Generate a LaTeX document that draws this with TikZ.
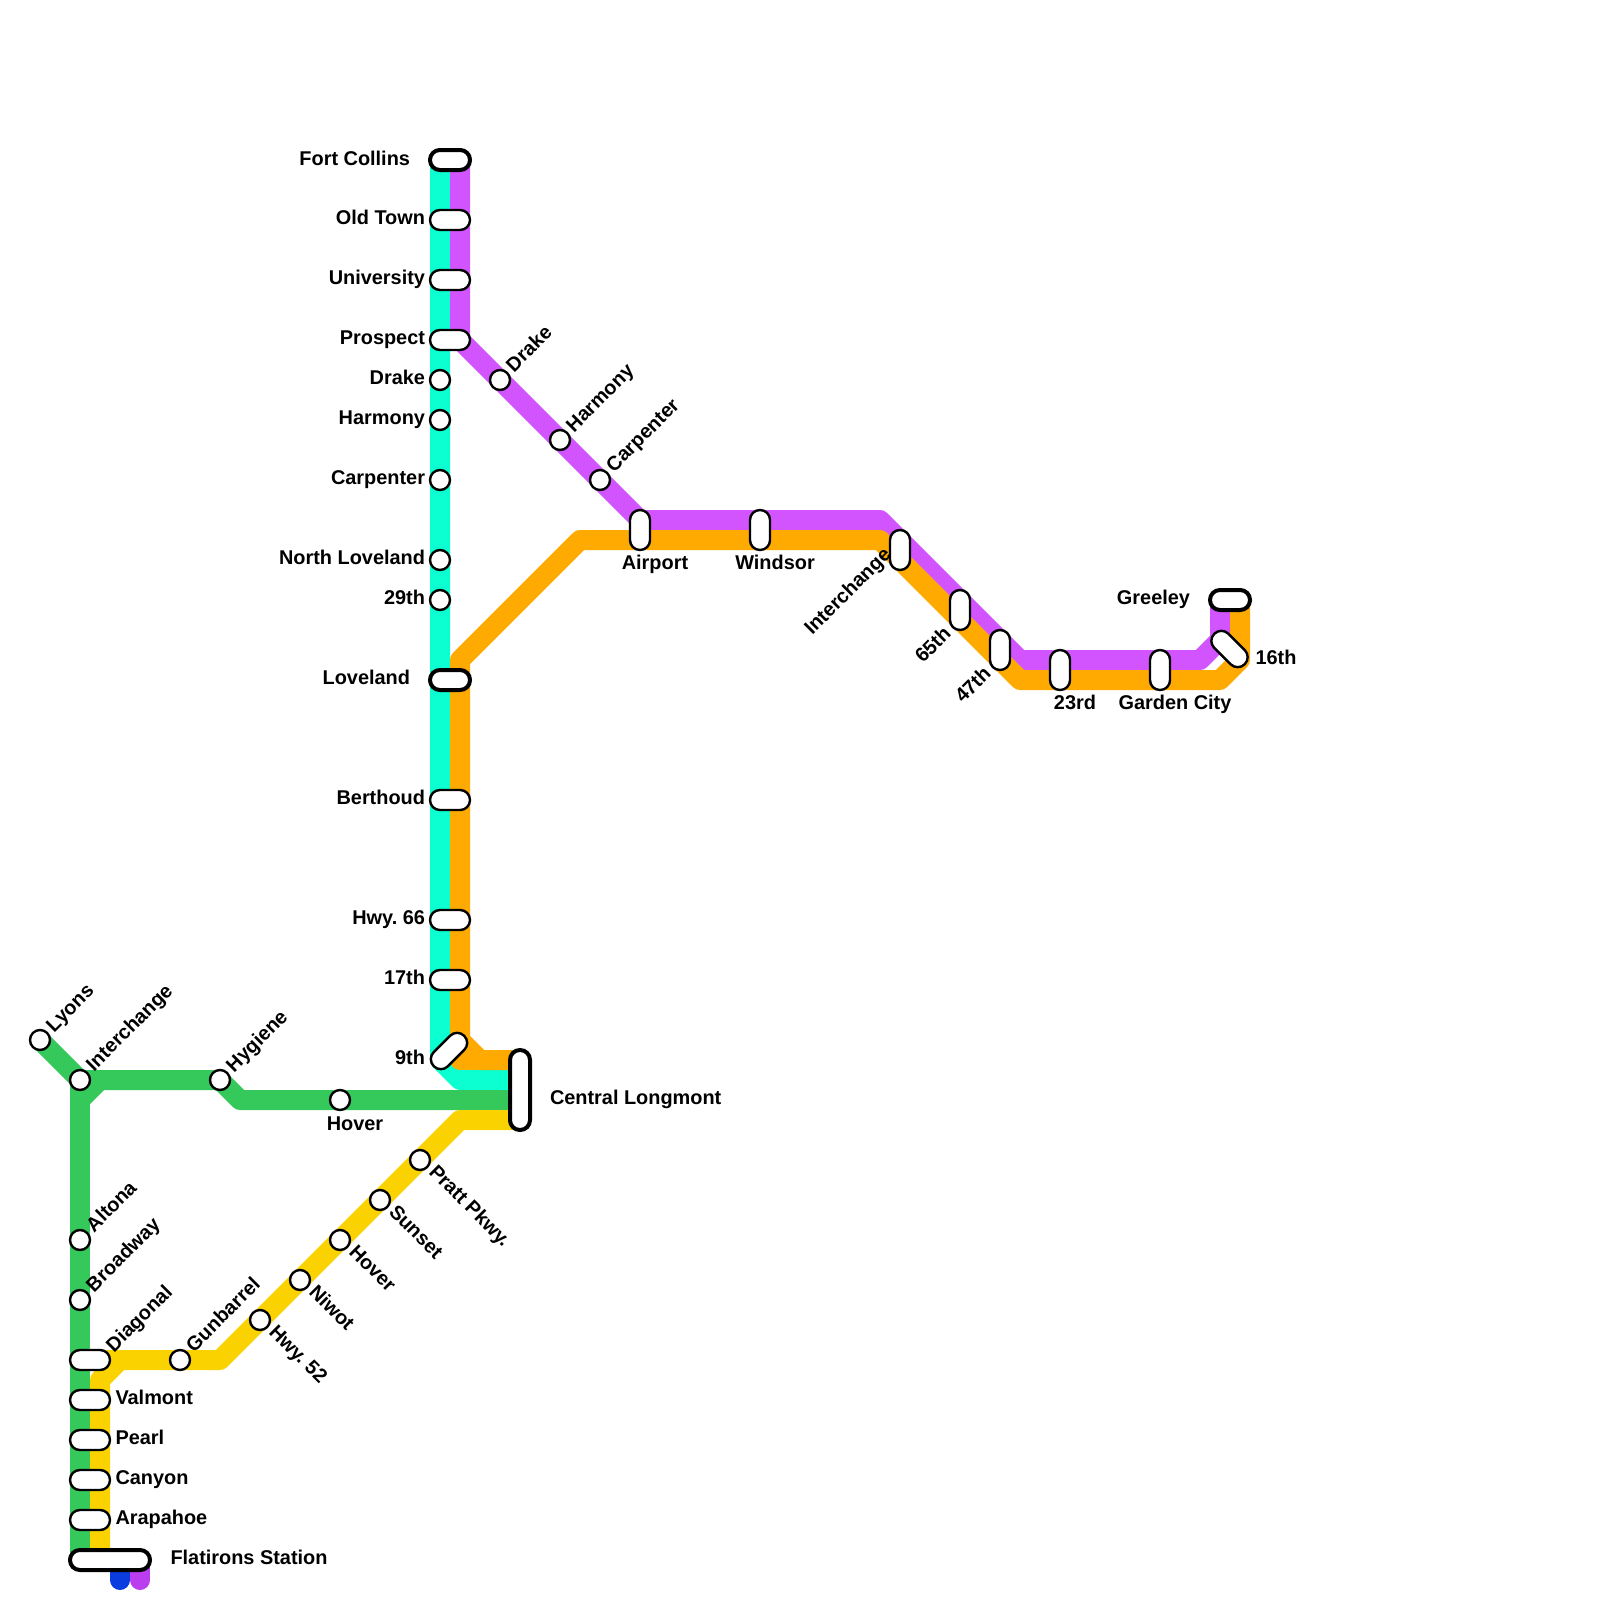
\documentclass[tikz,border=0pt]{standalone}
\usepackage{fontspec}
\setmainfont{Liberation Sans}
\frenchspacing
\definecolor{cTeal}{HTML}{0BFFD0}
\definecolor{cPurple}{HTML}{D254FF}
\definecolor{cOrange}{HTML}{FFAA00}
\definecolor{cGreen}{HTML}{35C95C}
\definecolor{cYellow}{HTML}{FAD200}
\definecolor{cBlue}{HTML}{0A3CE0}
\definecolor{cViolet}{HTML}{BA3DF0}
\tikzset{
  route/.style={line width=20pt,line join=round,line cap=butt},
  stopc/.style={circle,draw=black,fill=white,line width=2.4pt,minimum size=20pt,inner sep=0pt,outer sep=0pt},
  stopb/.style={rectangle,rounded corners=9.9pt,draw=black,fill=white,line width=2.4pt,minimum width=40pt,minimum height=20pt,inner sep=0pt,outer sep=0pt},
  stopv/.style={stopb,minimum width=20pt,minimum height=40pt},
  stopd/.style={stopb,minimum width=43pt},
  termb/.style={stopb,line width=4pt},
  lab/.style={font=\fontsize{19.9}{24}\selectfont\bfseries,inner sep=0pt,outer sep=0pt,text=black},
  labr/.style={lab,anchor=base east},
  labl/.style={lab,anchor=base west},
  labc/.style={lab,anchor=base},
  labu/.style={lab,anchor=base west,rotate=45},
  labd/.style={lab,anchor=base west,rotate=-45},
  labe/.style={lab,anchor=base east,rotate=45},
}
\begin{document}
\begin{tikzpicture}[x=1pt,y=-1pt]
\useasboundingbox (0,0) rectangle (1600,1600);
% waypoints
\coordinate (tA) at (440,160); \coordinate (tB) at (440,1060); \coordinate (tC) at (460,1080); \coordinate (tD) at (520,1080);
\coordinate (pA) at (460,160); \coordinate (pB) at (460,340); \coordinate (pC) at (640,520); \coordinate (pD) at (880,520);
\coordinate (pE) at (1020,660); \coordinate (pF) at (1200,660); \coordinate (pG) at (1220,640); \coordinate (pH) at (1220,600);
\coordinate (oA) at (520,1060); \coordinate (oB) at (480,1060); \coordinate (oC) at (460,1040); \coordinate (oD) at (460,660);
\coordinate (oE) at (580,540); \coordinate (oF) at (880,540); \coordinate (oG) at (1020,680); \coordinate (oH) at (1220,680);
\coordinate (oI) at (1240,660); \coordinate (oJ) at (1240,600); \coordinate (oK) at (460,1060);
\coordinate (gA) at (40,1040); \coordinate (gB) at (80,1080); \coordinate (gC) at (80,1560); \coordinate (gD) at (80,1100);
\coordinate (gE) at (100,1080); \coordinate (gF) at (220,1080); \coordinate (gG) at (240,1100); \coordinate (gH) at (520,1100);
\coordinate (yA) at (520,1120); \coordinate (yB) at (460,1120); \coordinate (yC) at (220,1360); \coordinate (yD) at (120,1360);
\coordinate (yE) at (100,1380); \coordinate (yF) at (100,1560); \coordinate (yG) at (100,1360);
\coordinate (bA) at (120,1560); \coordinate (bB) at (120,1580); \coordinate (vA) at (140,1560); \coordinate (vB) at (140,1580);
% tails
\draw[route,cBlue] (bA) -- (bB);
\draw[route,cViolet] (vA) -- (vB);
\fill[cBlue] (bB) circle (10);
\fill[cViolet] (vB) circle (10);
% lines
\draw[route,cTeal] (tA) -- (tB) -- (tC) -- (tD);
\draw[route,cPurple] (pA) -- (pB) -- (pC) -- (pD) -- (pE) -- (pF) -- (pG) -- (pH);
\draw[route,cGreen] (gA) -- (gB) -- (gE);
\draw[route,cGreen] (gC) -- (gB);
\draw[route,cGreen] (gD) -- (gE) -- (gF) -- (gG) -- (gH);
\draw[route,cYellow] (yA) -- (yB) -- (yC) -- (yG);
\draw[route,cYellow] (yD) -- (yE) -- (yF);
\draw[route,cOrange] (oA) -- (oB) -- (oC) -- (oD) -- (oE) -- (oF) -- (oG) -- (oH) -- (oI) -- (oJ);
\draw[route,cOrange] (oC) -- (oK) -- (oB);
% stations on the north line
\node[termb] (sFort) at (450,160) {};
\node[stopb] (sOld) at (450,220) {};
\node[stopb] (sUni) at (450,280) {};
\node[stopb] (sPro) at (450,340) {};
\node[stopc] (sDrakeW) at (440,380) {};
\node[stopc] (sHarW) at (440,420) {};
\node[stopc] (sCarW) at (440,480) {};
\node[stopc] (sNLo) at (440,560) {};
\node[stopc] (s29) at (440,600) {};
\node[termb] (sLov) at (450,680) {};
\node[stopb] (sBer) at (450,800) {};
\node[stopb] (sH66) at (450,920) {};
\node[stopb] (s17) at (450,980) {};
\node[stopd,rotate=45] (s9) at (449,1051) {};
\node[termb,minimum width=20pt,minimum height=80pt] (sCen) at (520,1090) {};
% east
\node[stopc] (sDrakeE) at (500,380) {};
\node[stopc] (sHarE) at (560,440) {};
\node[stopc] (sCarE) at (600,480) {};
\node[stopv] (sAir) at (640,530) {};
\node[stopv] (sWin) at (760,530) {};
\node[stopv] (sIntE) at (900,550) {};
\node[stopv] (s65) at (960,610) {};
\node[stopv] (s47) at (1000,650) {};
\node[stopv] (s23) at (1060,670) {};
\node[stopv] (sGar) at (1160,670) {};
\node[stopd,rotate=-45] (s16) at (1229.5,649) {};
\node[termb] (sGre) at (1230,600) {};
% west
\node[stopc] (sLyo) at (40,1040) {};
\node[stopc] (sIntW) at (80,1080) {};
\node[stopc] (sHyg) at (220,1080) {};
\node[stopc] (sHovN) at (340,1100) {};
\node[stopc] (sAlt) at (80,1240) {};
\node[stopc] (sBro) at (80,1300) {};
\node[stopb] (sDia) at (90,1360) {};
\node[stopb] (sVal) at (90,1400) {};
\node[stopb] (sPea) at (90,1440) {};
\node[stopb] (sCan) at (90,1480) {};
\node[stopb] (sAra) at (90,1520) {};
\node[termb,minimum width=80pt] (sFla) at (110,1560) {};
\node[stopc] (sGun) at (180,1360) {};
\node[stopc] (sH52) at (260,1320) {};
\node[stopc] (sNiw) at (300,1280) {};
\node[stopc] (sHovS) at (340,1240) {};
\node[stopc] (sSun) at (380,1200) {};
\node[stopc] (sPra) at (420,1160) {};
% labels
\node[labr] (lFort) at (410,165) {Fort Collins};
\node[labr] (lOld) at (425,224.5) {Old Town};
\node[labr] (lUni) at (425,284.5) {University};
\node[labr] (lPro) at (425,344) {Prospect};
\node[labr] (lDrakeW) at (425,384) {Drake};
\node[labr] (lHarW) at (425,424) {Harmony};
\node[labr] (lCarW) at (425,484) {Carpenter};
\node[labr] (lNLo) at (425,564) {North Loveland};
\node[labr] (l29) at (425,604) {29th};
\node[labr] (lLov) at (410,684) {Loveland};
\node[labr] (lBer) at (425,804) {Berthoud};
\node[labr] (lH66) at (425,924) {Hwy. 66};
\node[labr] (l17) at (425,984) {17th};
\node[labr] (l9) at (425,1064) {9th};
\node[labl] (lCen) at (550,1104) {Central Longmont};
\node[labu] (lDrakeE) at (514,373) {Drake};
\node[labu] (lHarE) at (574,433) {Harmony};
\node[labu] (lCarE) at (614,473) {Carpenter};
\node[labc] (lAir) at (655,569) {Airport};
\node[labc] (lWin) at (775,569) {Windsor};
\node[labe] (lIntE) at (892,556) {Interchange};
\node[labe] (l65) at (952,635) {65th};
\node[labe] (l47) at (992,675) {47th};
\node[labc] (l23) at (1075,709) {23rd};
\node[labc] (lGar) at (1175,709) {Garden City};
\node[labl] (l16) at (1255.5,664) {16th};
\node[labr] (lGre) at (1190,604) {Greeley};
\node[labu] (lLyo) at (54,1033) {Lyons};
\node[labu] (lIntW) at (94,1072) {Interchange};
\node[labu] (lHyg) at (234,1073) {Hygiene};
\node[labc] (lHovN) at (355,1130) {Hover};
\node[labu] (lAlt) at (94,1233) {Altona};
\node[labu] (lBro) at (94,1293) {Broadway};
\node[labu] (lDia) at (114,1353) {Diagonal};
\node[labu] (lGun) at (194,1353) {Gunbarrel};
\node[labl] (lVal) at (115.5,1404) {Valmont};
\node[labl] (lPea) at (115.5,1444) {Pearl};
\node[labl] (lCan) at (115.5,1484) {Canyon};
\node[labl] (lAra) at (115.5,1524) {Arapahoe};
\node[labl] (lFla) at (170.5,1564) {Flatirons Station};
\node[labd] (lH52) at (268,1333) {Hwy. 52};
\node[labd] (lNiw) at (308,1293) {Niwot};
\node[labd] (lHovS) at (348,1253) {Hover};
\node[labd] (lSun) at (388,1213) {Sunset};
\node[labd] (lPra) at (428,1173) {Pratt Pkwy.};
\end{tikzpicture}
\end{document}
